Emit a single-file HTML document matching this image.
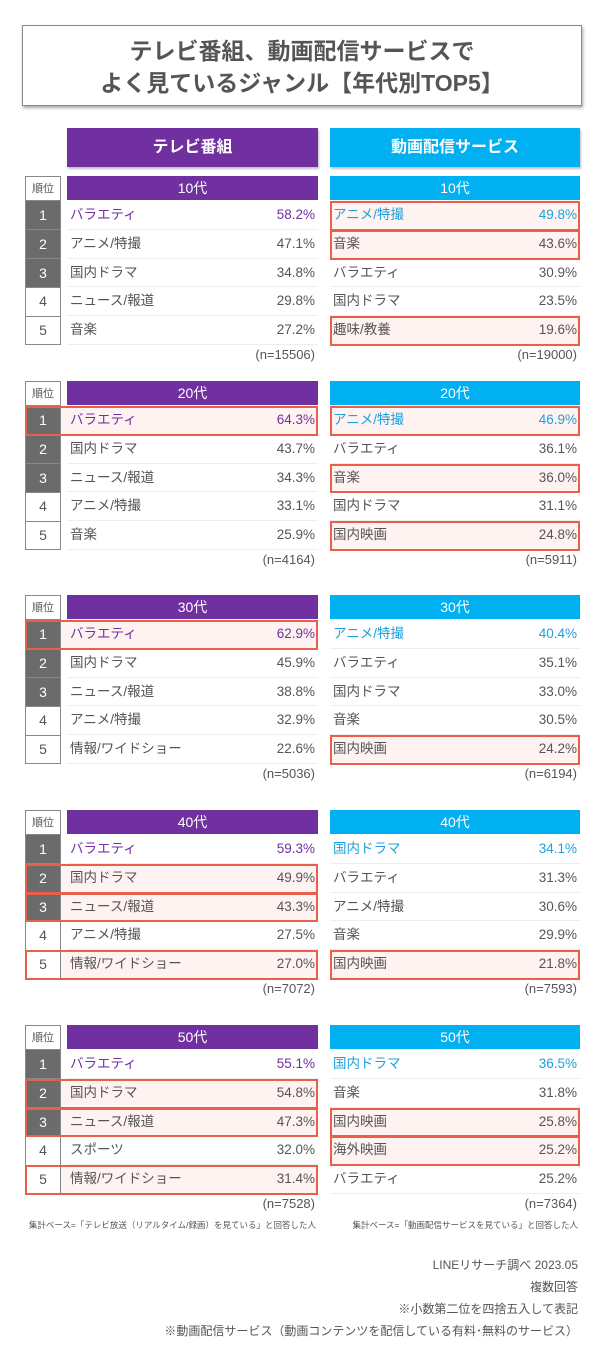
<!DOCTYPE html>
<html><head><meta charset="utf-8">
<style>
body{margin:0;width:602px;height:1350px;background:#fff;position:relative;overflow:hidden;font-family:"Liberation Sans","Noto Sans CJK JP",sans-serif;color:#555}
.abs{position:absolute;box-sizing:border-box}
#title{left:22px;top:25px;width:560px;height:81px;border:1px solid #888;box-shadow:1px 2px 3px rgba(0,0,0,.35);text-align:center;font-weight:bold;font-size:23px;line-height:32px;padding-top:9px;color:#555}
.hdr{top:128px;height:39px;color:#fff;font-weight:bold;font-size:16px;line-height:39px;text-align:center;box-shadow:1px 2px 2px rgba(0,0,0,.25)}
.age{height:24px;color:#fff;font-size:14px;line-height:24px;text-align:center}
.rk{left:25px;width:36px;font-size:14px;text-align:center;border:1px solid #888;border-top:none}
.row{font-size:13.5px;border-bottom:1px solid #eee}
.row .lbl{position:absolute;left:3px;top:0}
.row .val{position:absolute;right:3px;top:0}
.fill{background:#fff3f1}
.hl{border:2px solid #e8604c;z-index:5;pointer-events:none}
.note{font-size:13px;text-align:right}
.foot{font-size:8.5px;color:#555;white-space:nowrap}
</style></head><body>
<div id="title" class="abs">テレビ番組、動画配信サービスで<br>よく見ているジャンル【年代別TOP5】</div>
<div class="abs hdr" style="left:67px;width:251px;background:#7030a0">テレビ番組</div>
<div class="abs hdr" style="left:330px;width:250px;background:#00b0f0">動画配信サービス</div>
<div id="wrap"></div>
<div class="abs foot" style="left:20px;top:1219px;width:296px;text-align:right">集計ベース=「テレビ放送（リアルタイム/録画）を見ている」と回答した人</div>
<div class="abs foot" style="left:320px;top:1219px;width:258px;text-align:right">集計ベース=「動画配信サービスを見ている」と回答した人</div>
<div class="abs" style="right:24px;top:1254px;text-align:right;font-size:12px;line-height:22px;color:#555">LINEリサーチ調べ 2023.05<br>複数回答<br>※小数第二位を四捨五入して表記<br>※動画配信サービス（動画コンテンツを配信している有料･無料のサービス）</div>
<script>
const ages=["10代","20代","30代","40代","50代"];
const tvLabels=[["バラエティ","アニメ/特撮","国内ドラマ","ニュース/報道","音楽"],["バラエティ","国内ドラマ","ニュース/報道","アニメ/特撮","音楽"],["バラエティ","国内ドラマ","ニュース/報道","アニメ/特撮","情報/ワイドショー"],["バラエティ","国内ドラマ","ニュース/報道","アニメ/特撮","情報/ワイドショー"],["バラエティ","国内ドラマ","ニュース/報道","スポーツ","情報/ワイドショー"]];
const tvValues=[[58.2,47.1,34.8,29.8,27.2],[64.3,43.7,34.3,33.1,25.9],[62.9,45.9,38.8,32.9,22.6],[59.3,49.9,43.3,27.5,27.0],[55.1,54.8,47.3,32.0,31.4]];
const tvN=[15506,4164,5036,7072,7528];
const tvHighlight=[[],[1],[1],[2,3,5],[2,3,5]];
const stLabels=[["アニメ/特撮","音楽","バラエティ","国内ドラマ","趣味/教養"],["アニメ/特撮","バラエティ","音楽","国内ドラマ","国内映画"],["アニメ/特撮","バラエティ","国内ドラマ","音楽","国内映画"],["国内ドラマ","バラエティ","アニメ/特撮","音楽","国内映画"],["国内ドラマ","音楽","国内映画","海外映画","バラエティ"]];
const stValues=[[49.8,43.6,30.9,23.5,19.6],[46.9,36.1,36.0,31.1,24.8],[40.4,35.1,33.0,30.5,24.2],[34.1,31.3,30.6,29.9,21.8],[36.5,31.8,25.8,25.2,25.2]];
const stN=[19000,5911,6194,7593,7364];
const stHighlight=[[1,2,5],[1,3,5],[5],[5],[3,4]];

const tops=[176,381,595,810,1025];
const RH=28.8;
const W=document.getElementById('wrap');
function mk(cls,style,txt){const d=document.createElement('div');d.className='abs '+cls;d.style.cssText=style;if(txt!==undefined)d.textContent=txt;W.appendChild(d);return d;}
ages.forEach((a,b)=>{
  const t=tops[b];
  const rl=mk('rk',`top:${t}px;height:25px;border-top:1px solid #888;font-size:11px;line-height:24px;color:#555`,'順位');
  
  
  const at=mk('age',`left:67px;top:${t}px;width:251px;background:#7030a0`,a);
  
  
  const as=mk('age',`left:330px;top:${t}px;width:250px;background:#00b0f0`,a);
  
  
  for(let i=0;i<5;i++){
    const y=t+25+i*RH;
    const tvH=tvHighlight[b].includes(i+1), stH=stHighlight[b].includes(i+1);
    if(tvH){const f=mk('fill',`left:61px;top:${y}px;width:257px;height:${RH}px`);
      
      
      const h=mk('hl',`left:25px;top:${y}px;width:293px;height:${RH+1}px`);
      
      }
    if(stH){const f=mk('fill',`left:330px;top:${y}px;width:250px;height:${RH}px`);
      
      
      const h=mk('hl',`left:330px;top:${y}px;width:250px;height:${RH+1}px`);
      
      }
    const dark=i<3;
    const r=mk('rk',`top:${y}px;height:${RH+0.5}px;line-height:${RH}px;background:${dark?'#6b6b6b':'transparent'};color:${dark?'#fff':'#555'}`,String(i+1));
    
    
    [[67,251,tvLabels,tvValues,'#7030a0','tv'],[330,250,stLabels,stValues,'#1ea0dc','streaming']].forEach(([x,w,L,V,c,nm])=>{
      const row=mk('row',`left:${x}px;top:${y}px;width:${w}px;height:${RH}px;line-height:${RH}px;color:${i==0?c:'#555'}`);
      
      
      const l=document.createElement('span');l.className='lbl';l.textContent=L[b][i];row.appendChild(l);
      const v=document.createElement('span');v.className='val';v.textContent=V[b][i].toFixed(1)+'%';row.appendChild(v);
    });
  }
  const ny=t+25+5*RH+2;
  const n1=mk('note',`left:67px;top:${ny}px;width:248px`,`(n=${tvN[b]})`);
  
  
  const n2=mk('note',`left:330px;top:${ny}px;width:247px`,`(n=${stN[b]})`);
  
  
});
</script>
</body></html>
